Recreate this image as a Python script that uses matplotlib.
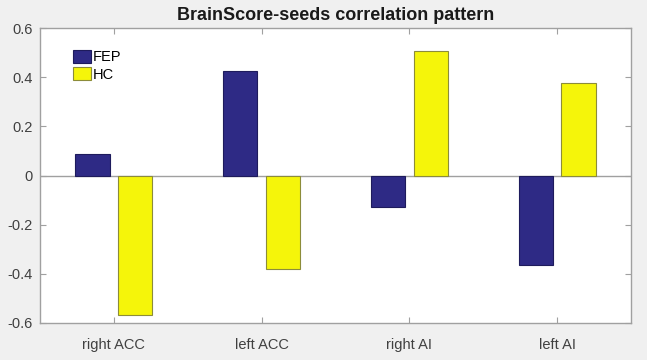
import numpy as np
import matplotlib
matplotlib.use("Agg")
import matplotlib.pyplot as plt
from matplotlib.patches import Rectangle

plt.rcParams['font.family'] = ['Liberation Sans', 'DejaVu Sans']

# Data
regions = ["right ACC", "left ACC", "right AI", "left AI"]
fep = [0.086, 0.426, -0.127, -0.364]
hc = [-0.568, -0.382, 0.507, 0.375]
yticks = [-0.6, -0.4, -0.2, 0, 0.2, 0.4, 0.6]
ytick_labels = ["-0.6", "-0.4", "-0.2", "0", "0.2", "0.4", "0.6"]

fep_color = "#2e2a85"
hc_color = "#f5f50a"
gray_bg = "#f0f0f0"
axis_gray = "#a0a0a0"
label_gray = "#404040"

fig = plt.figure(figsize=(6.56, 3.60), dpi=100, facecolor=gray_bg)
# white strip at the right edge of the screenshot
fig.patches.append(Rectangle((647 / 656, 0), 1 - 647 / 656, 1,
                             transform=fig.transFigure, facecolor="white",
                             edgecolor="none", zorder=-1))
ax = fig.add_axes([40 / 656, 37 / 360, 591 / 656, 295 / 360])
ax.set_facecolor("white")

x = np.arange(1, len(regions) + 1)
offset = 0.145
width = 0.232
ax.bar(x - offset, fep, width, color=fep_color, edgecolor="#1e1b5c",
       linewidth=0.8, label="FEP", zorder=3)
ax.bar(x + offset, hc, width, color=hc_color, edgecolor="#8c8c3a",
       linewidth=0.8, label="HC", zorder=3)
ax.axhline(0, color=axis_gray, linewidth=1.0, zorder=2)

ax.set_xlim(0.5, 4.5)
ax.set_ylim(-0.6, 0.6)
ax.set_xticks(x)
ax.set_xticklabels(regions, va="baseline")
ax.set_yticks(yticks)
ax.set_yticklabels(ytick_labels)

ax.tick_params(direction="in", length=4, width=0.8, color=axis_gray,
               labelcolor=label_gray, labelsize=10.5,
               top=True, right=True, pad=5)
ax.tick_params(axis="x", pad=19)
for sp in ax.spines.values():
    sp.set_color(axis_gray)
    sp.set_linewidth(1.0)

ax.set_title("BrainScore-seeds correlation pattern", fontsize=13,
             fontweight="bold", color="#1a1a1a", pad=6)

leg = ax.legend(loc="upper left", bbox_to_anchor=(0.056, 0.925), frameon=False,
                fontsize=10.5, handlelength=1.25, handleheight=0.95,
                handletextpad=0.12, labelspacing=0.2, borderaxespad=0,
                borderpad=0)

fig.savefig("out.png", dpi=100, facecolor=fig.get_facecolor())
